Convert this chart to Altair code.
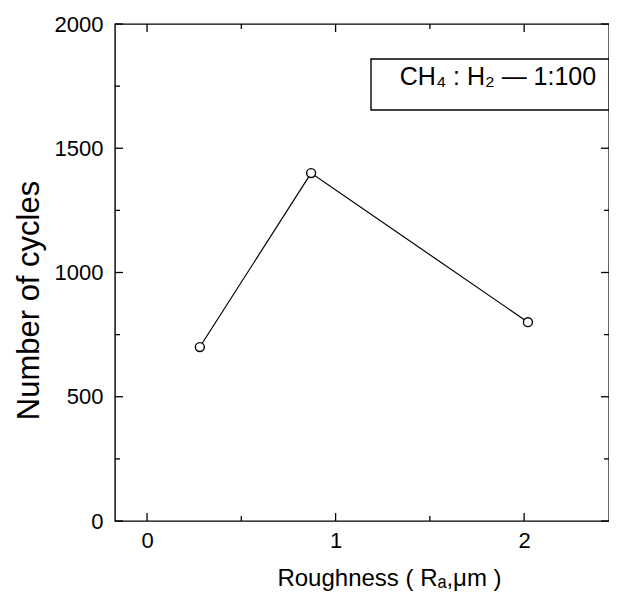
import altair as alt
import pandas as pd

# data
roughness = [0.28, 0.87, 2.02]
cycles = [700, 1400, 800]

# axis tick values
x_major = [0, 1, 2]
x_minor = [0.5, 1.5]
y_major = [0, 500, 1000, 1500, 2000]
y_minor = [250, 750, 1250, 1750]

W, H = 494, 497
XDOM = [-0.17, 2.45]
YDOM = [0, 2000]
FONT = "Liberation Sans"

xs = alt.Scale(domain=XDOM, nice=False, zero=False)
ys = alt.Scale(domain=YDOM, nice=False, zero=False)

df = pd.DataFrame({"r": roughness, "n": cycles})

xaxis = alt.Axis(values=x_major, format="d", ticks=False, domain=False, grid=False,
                 labelFontSize=22, labelPadding=9, labelColor="black", labelFont=FONT,
                 title="Roughness ( Rₐ,μm )", titleFontSize=24, titleFontWeight="normal",
                 titleFont=FONT, titleColor="black", titleX=274, titleY=64,
                 titleBaseline="alphabetic", titleAlign="center")
yaxis = alt.Axis(values=y_major, format="d", ticks=False, domain=False, grid=False,
                 labelFontSize=22, labelPadding=12, labelColor="black", labelFont=FONT,
                 title="Number of cycles", titleFontSize=31, titleFontWeight="normal",
                 titleFont=FONT, titleColor="black", titleX=-77, titleY=276,
                 titleBaseline="alphabetic", titleAlign="center", titleAngle=270)

line = alt.Chart(df).mark_line(color="black", strokeWidth=1.2).encode(
    x=alt.X("r:Q", scale=xs, axis=xaxis),
    y=alt.Y("n:Q", scale=ys, axis=yaxis),
)
points = alt.Chart(df).mark_point(shape="circle", filled=True, fill="white", stroke="black",
                                  strokeWidth=1.4, size=80, opacity=1).encode(
    x=alt.X("r:Q", scale=xs, axis=xaxis),
    y=alt.Y("n:Q", scale=ys, axis=yaxis),
)


def yticks(vals, length, side):
    d = pd.DataFrame({"n": vals})
    if side == "left":
        x0, x1 = 0, length
    else:
        x0, x1 = W, W - length
    return alt.Chart(d).mark_rule(color="black", strokeWidth=1.3).encode(
        y=alt.Y("n:Q", scale=ys, axis=yaxis),
        x=alt.value(x0), x2=alt.value(x1),
    )


def xticks(vals, length, side):
    d = pd.DataFrame({"r": vals})
    if side == "bottom":
        y0, y1 = H, H - length
    else:
        y0, y1 = 0, length
    return alt.Chart(d).mark_rule(color="black", strokeWidth=1.3).encode(
        x=alt.X("r:Q", scale=xs, axis=xaxis),
        y=alt.value(y0), y2=alt.value(y1),
    )


ticks = [
    yticks(y_major, 8, "left"), yticks(y_minor, 5, "left"),
    yticks(y_major, 8, "right"), yticks(y_minor, 5, "right"),
    xticks(x_major, 8, "bottom"), xticks(x_minor, 5, "bottom"),
    xticks(x_major, 8, "top"), xticks(x_minor, 5, "top"),
]

one = pd.DataFrame({"a": [0]})
box = alt.Chart(one).mark_rect(fill="white", stroke="black", strokeWidth=1.4).encode(
    x=alt.value(256), x2=alt.value(W), y=alt.value(35), y2=alt.value(86)
)
label = alt.Chart(one).mark_text(text="CH₄ : H₂ — 1:100", font=FONT, fontSize=25,
                                 align="center", baseline="alphabetic", color="black").encode(
    x=alt.value(383), y=alt.value(61)
)

chart = alt.layer(line, points, *ticks, box, label).properties(
    width=W, height=H,
    autosize=alt.AutoSizeParams(type="none"),
    padding={"left": 107, "top": 16, "right": 0, "bottom": 70},
    background="white",
).configure_view(stroke="black", strokeWidth=1.4)

chart.save("out.html", embed_options={"renderer": "svg", "actions": False})
